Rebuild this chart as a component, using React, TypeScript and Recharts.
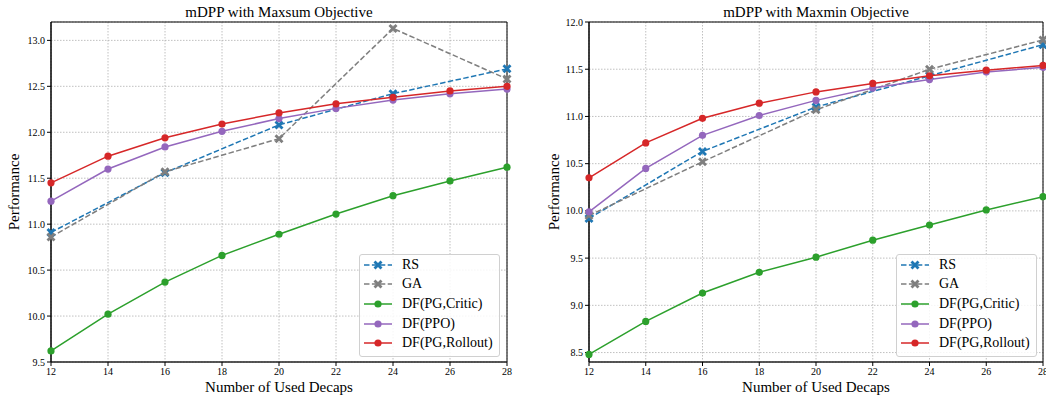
import React from "react";
import {
	LineChart,
	Line,
	XAxis,
	YAxis,
	CartesianGrid,
	Legend,
	ReferenceArea,
} from "recharts";

const FONT = "'Liberation Serif', 'Times New Roman', serif";

const decaps = [12, 14, 16, 18, 20, 22, 24, 26, 28];
const baselineDecaps = [12, 16, 20, 24, 28];

// Maxsum objective
const maxsumRS = [10.91, 11.56, 12.08, 12.42, 12.69];
const maxsumGA = [10.86, 11.57, 11.93, 13.13, 12.58];
const maxsumCritic = [9.62, 10.02, 10.37, 10.66, 10.89, 11.11, 11.31, 11.47, 11.62];
const maxsumPPO = [11.25, 11.6, 11.84, 12.01, 12.15, 12.26, 12.35, 12.42, 12.47];
const maxsumRollout = [11.45, 11.74, 11.94, 12.09, 12.21, 12.31, 12.38, 12.45, 12.5];
const maxsumTicks = [9.5, 10.0, 10.5, 11.0, 11.5, 12.0, 12.5, 13.0];

// Maxmin objective
const maxminRS = [9.92, 10.63, 11.1, 11.43, 11.76];
const maxminGA = [9.95, 10.52, 11.07, 11.5, 11.81];
const maxminCritic = [8.48, 8.83, 9.13, 9.35, 9.51, 9.69, 9.85, 10.01, 10.15];
const maxminPPO = [9.99, 10.45, 10.8, 11.01, 11.17, 11.3, 11.39, 11.47, 11.52];
const maxminRollout = [10.35, 10.72, 10.98, 11.14, 11.26, 11.35, 11.43, 11.49, 11.54];
const maxminTicks = [8.5, 9.0, 9.5, 10.0, 10.5, 11.0, 11.5, 12.0];

const series = [
	{ key: "rs", name: "RS", color: "#1f77b4", dashed: true },
	{ key: "ga", name: "GA", color: "#7f7f7f", dashed: true },
	{ key: "critic", name: "DF(PG,Critic)", color: "#2ca02c", dashed: false },
	{ key: "ppo", name: "DF(PPO)", color: "#9467bd", dashed: false },
	{ key: "rollout", name: "DF(PG,Rollout)", color: "#d62728", dashed: false },
];

const buildRows = (
	rs: number[],
	ga: number[],
	critic: number[],
	ppo: number[],
	rollout: number[]
) =>
	decaps.map((x, i) => {
		const j = baselineDecaps.indexOf(x);
		return {
			x,
			rs: j >= 0 ? rs[j] : null,
			ga: j >= 0 ? ga[j] : null,
			critic: critic[i],
			ppo: ppo[i],
			rollout: rollout[i],
		};
	});

// filled "X" marker like matplotlib's 'X'
const xPath = (cx: number, cy: number, s = 4.5, a = 2) =>
	[
		[-s + a, -s],
		[0, -a],
		[s - a, -s],
		[s, -s + a],
		[a, 0],
		[s, s - a],
		[s - a, s],
		[0, a],
		[-s + a, s],
		[-s, s - a],
		[-a, 0],
		[-s, -s + a],
	]
		.map(([dx, dy], i) => `${i ? "L" : "M"}${cx + dx},${cy + dy}`)
		.join("") + "Z";

const makeDot = (color: string, cross: boolean) => (p: any) => {
	const { cx, cy, index } = p;
	if (cx == null || cy == null || p.value == null) return <g key={index} />;
	if (cross) return <path key={index} d={xPath(cx, cy)} fill={color} />;
	return <circle key={index} cx={cx} cy={cy} r={3.6} fill={color} />;
};

const LegendBox = () => (
	<div
		style={{
			background: "rgba(255,255,255,0.85)",
			border: "1px solid #d0d0d0",
			borderRadius: 3,
			padding: "0 6px 3px 4px",
			fontFamily: FONT,
			fontSize: 14,
			color: "#000",
		}}>
		{series.map((s) => (
			<div
				key={s.key}
				style={{ display: "flex", alignItems: "center", height: 19.6 }}>
				<svg width={28} height={12}>
					<line
						x1={0}
						x2={28}
						y1={6}
						y2={6}
						stroke={s.color}
						strokeWidth={1.5}
						strokeDasharray={s.dashed ? "5.5 2.4" : undefined}
					/>
					{s.dashed ? (
						<path d={xPath(14, 6)} fill={s.color} />
					) : (
						<circle cx={14} cy={6} r={3.6} fill={s.color} />
					)}
				</svg>
				<span style={{ marginLeft: 10, lineHeight: "14px" }}>{s.name}</span>
			</div>
		))}
	</div>
);

const YTitle = (props: any) => {
	const { viewBox } = props;
	const x = viewBox.x + 14;
	const y = viewBox.y + viewBox.height / 2;
	return (
		<text
			x={x}
			y={y}
			transform={`rotate(-90 ${x} ${y})`}
			textAnchor='middle'
			dominantBaseline='central'
			fontFamily={FONT}
			fontSize={15}
			fill='#000'>
			Performance
		</text>
	);
};

const XTitle = (props: any) => {
	const { viewBox } = props;
	return (
		<text
			x={viewBox.x + viewBox.width / 2}
			y={viewBox.y + 25}
			textAnchor='middle'
			dominantBaseline='central'
			fontFamily={FONT}
			fontSize={15}
			fill='#000'>
			Number of Used Decaps
		</text>
	);
};

type PanelProps = {
	title: string;
	rows: any[];
	yTicks: number[];
	yDomain: [number, number];
	left: number;
	width: number;
	marginRight: number;
	yAxisWidth: number;
	legendLeft: number;
};

const Panel = (props: PanelProps) => {
	const plotLeft = props.yAxisWidth;
	const plotRight = props.width - props.marginRight;
	return (
		<div
			style={{
				position: "absolute",
				left: props.left,
				top: 0,
				width: props.width,
				height: 396,
			}}>
			<div
				style={{
					position: "absolute",
					left: plotLeft,
					width: plotRight - plotLeft,
					top: 3,
					textAlign: "center",
					fontFamily: FONT,
					fontSize: 15,
					lineHeight: "18px",
					color: "#000",
					whiteSpace: "nowrap",
				}}>
				{props.title}
			</div>
			<LineChart
				width={props.width}
				height={396}
				data={props.rows}
				margin={{ top: 22, right: props.marginRight, bottom: 0, left: 0 }}>
				<CartesianGrid
					stroke='#b0b0b0'
					strokeWidth={0.8}
					strokeDasharray='1.5 1.5'
				/>
				<XAxis
					dataKey='x'
					type='number'
					domain={[12, 28]}
					ticks={decaps}
					height={34}
					tickSize={4}
					tickLine={{ stroke: "#000" }}
					axisLine={{ stroke: "#333", strokeWidth: 1.2 }}
					tick={{ fill: "#000", fontSize: 10, fontFamily: FONT }}
					label={<XTitle />}
				/>
				<YAxis
					type='number'
					domain={props.yDomain}
					ticks={props.yTicks}
					width={props.yAxisWidth}
					tickSize={4}
					tickLine={{ stroke: "#000" }}
					axisLine={{ stroke: "#000" }}
					tick={{ fill: "#000", fontSize: 10, fontFamily: FONT }}
					tickFormatter={(v: number) => v.toFixed(1)}
					allowDataOverflow
					label={<YTitle />}
				/>
				<ReferenceArea
					x1={12}
					x2={28}
					y1={props.yDomain[0]}
					y2={props.yDomain[1]}
					fill='none'
					stroke='#000'
					strokeWidth={1}
					ifOverflow='visible'
				/>
				{series.map((s) => (
					<Line
						key={s.key}
						dataKey={s.key}
						name={s.name}
						stroke={s.color}
						strokeWidth={1.5}
						strokeDasharray={s.dashed ? "5.5 2.4" : undefined}
						dot={makeDot(s.color, s.dashed)}
						activeDot={false}
						connectNulls
						isAnimationActive={false}
					/>
				))}
				<Legend
					layout='vertical'
					align='center'
					verticalAlign='middle'
					content={<LegendBox />}
					wrapperStyle={{
						left: props.legendLeft,
						top: 254,
						width: "auto",
						height: "auto",
					}}
				/>
			</LineChart>
		</div>
	);
};

const App = () => {
	return (
		<div
			style={{
				position: "fixed",
				left: 0,
				top: 0,
				width: 1046,
				height: 396,
				overflow: "hidden",
				background: "#fff",
			}}>
			<Panel
				title='mDPP with Maxsum Objective'
				rows={buildRows(maxsumRS, maxsumGA, maxsumCritic, maxsumPPO, maxsumRollout)}
				yTicks={maxsumTicks}
				yDomain={[9.5, 13.2]}
				left={0}
				width={520}
				marginRight={13}
				yAxisWidth={51}
				legendLeft={359}
			/>
			<Panel
				title='mDPP with Maxmin Objective'
				rows={buildRows(maxminRS, maxminGA, maxminCritic, maxminPPO, maxminRollout)}
				yTicks={maxminTicks}
				yDomain={[8.4, 12.0]}
				left={540}
				width={540}
				marginRight={37}
				yAxisWidth={49}
				legendLeft={356}
			/>
		</div>
	);
};

export default App;
